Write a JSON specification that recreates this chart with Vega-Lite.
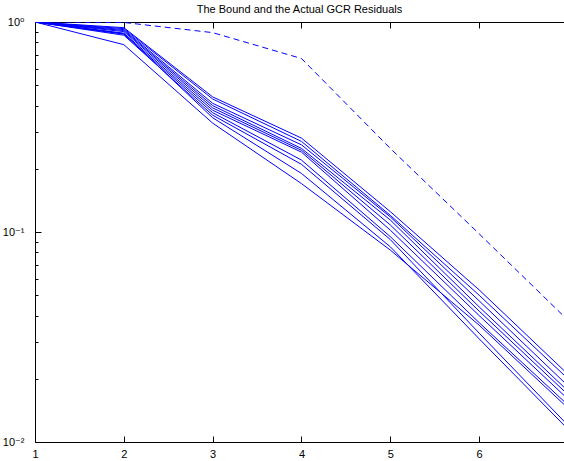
{
  "$schema": "https://vega.github.io/schema/vega-lite/v6.json",
  "autosize": "none",
  "width": 529,
  "height": 420,
  "padding": {"left": 35, "top": 22, "right": 0, "bottom": 19},
  "background": "white",
  "config": {
    "view": {"stroke": null},
    "font": "Liberation Sans",
    "axis": {
      "domainColor": "black", "tickColor": "black", "labelColor": "black",
      "grid": false, "labelFont": "Liberation Sans, DejaVu Sans", "labelFontSize": 11,
      "title": null
    }
  },
  "title": {
    "text": "The Bound and the Actual GCR Residuals",
    "fontSize": 11, "fontWeight": "normal", "font": "Liberation Sans",
    "color": "black", "offset": 1, "anchor": "middle"
  },
  "datasets": {
    "residuals": [
      {"series": "L1", "k": 1, "value": 1}, {"series": "L1", "k": 2, "value": 0.94}, {"series": "L1", "k": 3, "value": 0.44}, {"series": "L1", "k": 4, "value": 0.28}, {"series": "L1", "k": 5, "value": 0.125}, {"series": "L1", "k": 6, "value": 0.053}, {"series": "L1", "k": 7, "value": 0.021},
      {"series": "L2", "k": 1, "value": 1}, {"series": "L2", "k": 2, "value": 0.93}, {"series": "L2", "k": 3, "value": 0.43}, {"series": "L2", "k": 4, "value": 0.27}, {"series": "L2", "k": 5, "value": 0.12}, {"series": "L2", "k": 6, "value": 0.05}, {"series": "L2", "k": 7, "value": 0.02},
      {"series": "L3", "k": 1, "value": 1}, {"series": "L3", "k": 2, "value": 0.92}, {"series": "L3", "k": 3, "value": 0.41}, {"series": "L3", "k": 4, "value": 0.26}, {"series": "L3", "k": 5, "value": 0.118}, {"series": "L3", "k": 6, "value": 0.047}, {"series": "L3", "k": 7, "value": 0.0185},
      {"series": "L4", "k": 1, "value": 1}, {"series": "L4", "k": 2, "value": 0.91}, {"series": "L4", "k": 3, "value": 0.4}, {"series": "L4", "k": 4, "value": 0.25}, {"series": "L4", "k": 5, "value": 0.114}, {"series": "L4", "k": 6, "value": 0.044}, {"series": "L4", "k": 7, "value": 0.0175},
      {"series": "L5", "k": 1, "value": 1}, {"series": "L5", "k": 2, "value": 0.9}, {"series": "L5", "k": 3, "value": 0.39}, {"series": "L5", "k": 4, "value": 0.245}, {"series": "L5", "k": 5, "value": 0.108}, {"series": "L5", "k": 6, "value": 0.042}, {"series": "L5", "k": 7, "value": 0.0168},
      {"series": "L6", "k": 1, "value": 1}, {"series": "L6", "k": 2, "value": 0.885}, {"series": "L6", "k": 3, "value": 0.38}, {"series": "L6", "k": 4, "value": 0.24}, {"series": "L6", "k": 5, "value": 0.102}, {"series": "L6", "k": 6, "value": 0.04}, {"series": "L6", "k": 7, "value": 0.016},
      {"series": "L7", "k": 1, "value": 1}, {"series": "L7", "k": 2, "value": 0.875}, {"series": "L7", "k": 3, "value": 0.37}, {"series": "L7", "k": 4, "value": 0.22}, {"series": "L7", "k": 5, "value": 0.095}, {"series": "L7", "k": 6, "value": 0.037}, {"series": "L7", "k": 7, "value": 0.015},
      {"series": "L8", "k": 1, "value": 1}, {"series": "L8", "k": 2, "value": 0.865}, {"series": "L8", "k": 3, "value": 0.36}, {"series": "L8", "k": 4, "value": 0.21}, {"series": "L8", "k": 5, "value": 0.092}, {"series": "L8", "k": 6, "value": 0.033}, {"series": "L8", "k": 7, "value": 0.012},
      {"series": "L9", "k": 1, "value": 1}, {"series": "L9", "k": 2, "value": 0.88}, {"series": "L9", "k": 3, "value": 0.35}, {"series": "L9", "k": 4, "value": 0.19}, {"series": "L9", "k": 5, "value": 0.085}, {"series": "L9", "k": 6, "value": 0.031}, {"series": "L9", "k": 7, "value": 0.0115},
      {"series": "L10", "k": 1, "value": 1}, {"series": "L10", "k": 2, "value": 0.78}, {"series": "L10", "k": 3, "value": 0.33}, {"series": "L10", "k": 4, "value": 0.17}, {"series": "L10", "k": 5, "value": 0.082}, {"series": "L10", "k": 6, "value": 0.036}, {"series": "L10", "k": 7, "value": 0.0145}
    ],
    "bound": [
      {"k": 1, "value": 1}, {"k": 2, "value": 0.995}, {"k": 3, "value": 0.89}, {"k": 4, "value": 0.67}, {"k": 5, "value": 0.25}, {"k": 6, "value": 0.098}, {"k": 7, "value": 0.038}
    ]
  },
  "layer": [
    {
      "data": {"name": "residuals"},
      "mark": {"type": "line", "color": "#0000ff", "strokeWidth": 1, "clip": true},
      "encoding": {
        "x": {
          "field": "k", "type": "quantitative",
          "scale": {"domain": [1, 6.955], "nice": false, "zero": false},
          "axis": {"orient": "bottom", "values": [1, 2, 3, 4, 5, 6], "tickSize": -6, "labelPadding": 12, "domainWidth": 1, "labelFlush": false, "format": "d"}
        },
        "y": {
          "field": "value", "type": "quantitative",
          "scale": {"type": "log", "domain": [0.01, 1], "nice": false},
          "axis": {
            "orient": "left",
            "values": [0.01, 0.02, 0.03, 0.04, 0.05, 0.06, 0.07, 0.08, 0.09, 0.1, 0.2, 0.3, 0.4, 0.5, 0.6, 0.7, 0.8, 0.9, 1],
            "labelExpr": "abs(datum.value - 1) < 1e-9 ? '10⁰' : abs(datum.value - 0.1) < 1e-9 ? '10⁻¹' : abs(datum.value - 0.01) < 1e-9 ? '10⁻²' : ''",
            "tickSize": {"condition": {"test": "abs(log(datum.value)/LN10 - round(log(datum.value)/LN10)) < 1e-6", "value": -6}, "value": -3},
            "labelPadding": 17,
            "labelFlush": false,
            "labelOverlap": false
          }
        },
        "detail": {"field": "series"}
      }
    },
    {
      "data": {"name": "bound"},
      "mark": {"type": "line", "color": "#0000ff", "strokeWidth": 1, "strokeDash": [6, 4], "clip": true},
      "encoding": {
        "x": {
          "field": "k", "type": "quantitative",
          "axis": {"orient": "top", "values": [1, 2, 3, 4, 5, 6], "tickSize": -6, "labels": false, "domainWidth": 1}
        },
        "y": {"field": "value", "type": "quantitative"}
      }
    }
  ],
  "resolve": {"axis": {"x": "independent"}}
}
